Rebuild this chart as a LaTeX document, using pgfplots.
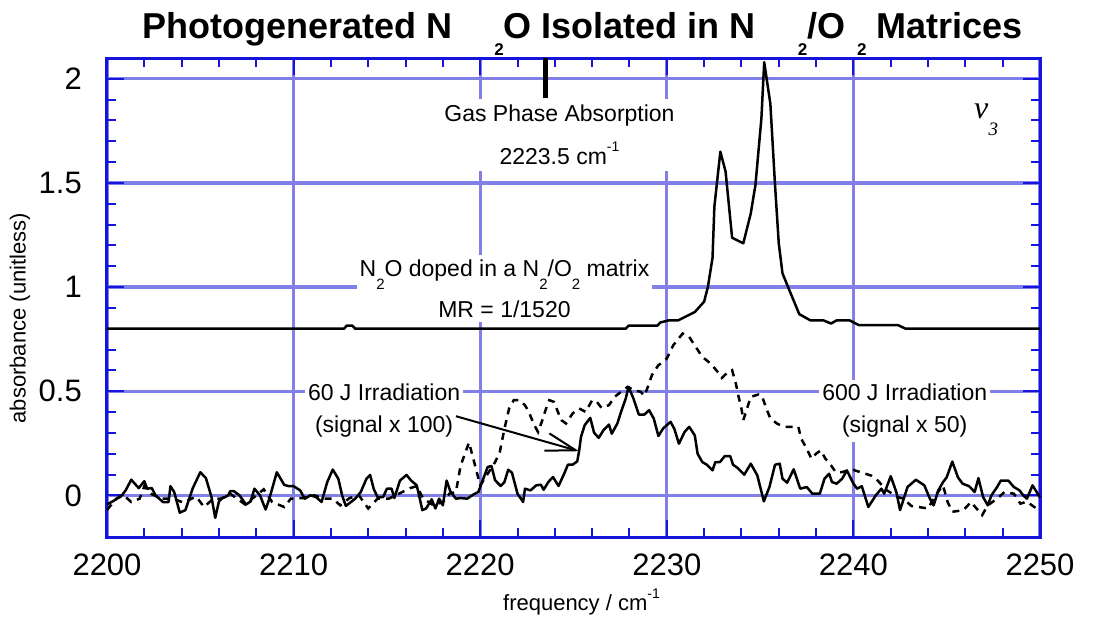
\documentclass[border=0pt]{standalone}
\usepackage{fontspec}
\setmainfont{Liberation Sans}
\newfontfamily\seriffont{Liberation Serif}
\usepackage{pgfplots}
\pgfplotsset{compat=1.18}
\usetikzlibrary{arrows.meta}
\definecolor{gridblue}{RGB}{128,128,232}
\definecolor{frameblue}{RGB}{20,20,220}
\newcommand{\fs}[1]{\fontsize{#1}{#1}\selectfont}
\newcommand{\lsub}[1]{\raisebox{-13pt}{\fs{15}#1}}
\newcommand{\tsub}[1]{\raisebox{-17pt}{\fs{17}\bfseries #1}}
\begin{document}
\begin{tikzpicture}
\begin{axis}[
  at={(0,0)}, anchor=south west,
  scale only axis, width=933pt, height=479pt,
  xmin=2200, xmax=2250, ymin=-0.2, ymax=2.1,
  clip=false,
  xtick={2200,2210,2220,2230,2240,2250},
  ytick={0,0.5,1,1.5,2},
  minor x tick num=4, minor y tick num=4,
  tick align=inside,
  major tick length=17pt, minor tick length=9pt,
  tick style={frameblue, line width=2pt},
  axis line style={frameblue, line width=3pt},
  grid=major,
  major grid style={gridblue, line width=3.2pt},
  tick label style={font=\fs{31}, inner sep=0pt},
  /pgf/number format/assume math mode=true,
  /pgf/number format/1000 sep={},
  xticklabel style={yshift=-17pt},
  yticklabel style={xshift=-25pt},
]
% N2O doped in N2/O2 matrix
\addplot[black, line width=2.5pt, line join=round] coordinates {
(2200,0.80) (2212.7,0.80) (2212.85,0.815) (2213.15,0.815) (2213.3,0.80)
(2227.8,0.80) (2227.95,0.815) (2229.5,0.815) (2229.65,0.83) (2230.1,0.84)
(2230.6,0.84) (2231.5,0.88) (2232.0,0.93) (2232.2,1.0) (2232.45,1.14)
(2232.55,1.387) (2232.87,1.65) (2233.15,1.555) (2233.5,1.237) (2234.1,1.21)
(2234.5,1.354) (2234.75,1.49) (2235.07,1.81) (2235.22,2.08) (2235.55,1.88)
(2235.8,1.49) (2236.0,1.21) (2236.2,1.066) (2236.6,0.978) (2237.1,0.87)
(2237.7,0.84) (2238.4,0.84) (2238.8,0.825) (2239.1,0.84) (2239.8,0.84)
(2240.3,0.817) (2242.4,0.817) (2242.8,0.80) (2250,0.80)
};
% 60 J irradiation (signal x 100)
\addplot[black, line width=2.5pt, line join=round] coordinates {
(2200,-0.044) (2200.4,-0.024) (2200.8,0) (2201.0,0.024) (2201.3,0.075)
(2201.7,0.035) (2202.0,0.068) (2202.15,0.032) (2202.4,0.035) (2202.6,0)
(2203.0,-0.032) (2203.3,-0.032) (2203.4,0.044) (2203.6,0.016) (2203.9,-0.083)
(2204.2,-0.071) (2204.6,0.035) (2205.0,0.111) (2205.3,0.083) (2205.6,-0.008)
(2205.8,-0.108) (2206.0,-0.029) (2206.15,-0.016) (2206.5,0) (2206.6,0.02)
(2206.8,0.02) (2207.1,0) (2207.45,-0.044) (2207.7,-0.029) (2207.9,0.032)
(2208.2,0) (2208.5,-0.068) (2208.7,-0.016) (2209.1,0.111) (2209.5,0.05)
(2209.75,0.044) (2210.0,0.044) (2210.35,0.024) (2210.6,-0.016) (2210.9,0)
(2211.2,-0.008) (2211.5,-0.032) (2211.8,0.063) (2212.1,0.124) (2212.4,0.079)
(2212.6,0) (2212.8,-0.051) (2213.0,-0.037) (2213.3,-0.016) (2213.6,0.016)
(2213.9,0.079) (2214.1,0.098) (2214.3,0.029) (2214.5,-0.008) (2214.8,-0.008)
(2215.0,0.032) (2215.25,0.032) (2215.4,-0.013) (2215.7,0.071) (2216.05,0.098)
(2216.3,0.071) (2216.6,0.048) (2216.9,-0.071) (2217.1,-0.063) (2217.4,-0.019)
(2217.6,-0.063) (2217.8,-0.016) (2218.0,-0.048) (2218.2,0.071) (2218.4,0.019)
(2218.7,-0.016) (2218.95,-0.013) (2219.3,-0.016) (2219.65,0.005) (2219.9,0.016)
(2220.2,0.088) (2220.4,0.136) (2220.6,0.141) (2220.8,0.072) (2221.1,0.045)
(2221.3,0.064) (2221.5,0.123) (2221.7,0.109) (2222.0,0.008) (2222.3,-0.032)
(2222.4,0.032) (2222.7,0.024) (2223.0,0.048) (2223.25,0.051) (2223.4,0.027)
(2223.65,0.064) (2223.9,0.088) (2224.2,0.045) (2224.5,0.104) (2224.7,0.147)
(2224.95,0.147) (2225.2,0.163) (2225.3,0.212) (2225.4,0.28) (2225.6,0.337)
(2225.9,0.372) (2226.1,0.301) (2226.35,0.276) (2226.6,0.312) (2226.9,0.34)
(2227.05,0.296) (2227.35,0.345) (2227.55,0.401) (2227.8,0.465) (2227.95,0.521)
(2228.2,0.468) (2228.5,0.388) (2228.8,0.388) (2229.05,0.409) (2229.3,0.369)
(2229.55,0.285) (2229.8,0.321) (2230.2,0.353) (2230.4,0.32) (2230.65,0.248)
(2230.95,0.304) (2231.2,0.329) (2231.5,0.288) (2231.65,0.2) (2231.9,0.16)
(2232.15,0.147) (2232.45,0.12) (2232.6,0.16) (2232.85,0.16) (2233.1,0.188)
(2233.4,0.188) (2233.55,0.147) (2233.8,0.131) (2234.15,0.099) (2234.5,0.152)
(2234.85,0.096) (2235.2,-0.029) (2235.5,0.04) (2235.8,0.147) (2236.05,0.152)
(2236.2,0.08) (2236.45,0.061) (2236.8,0.125) (2237.15,0.032) (2237.5,0.04)
(2237.8,0.008) (2238.2,0.008) (2238.45,0.08) (2238.7,0.104) (2238.85,0.064)
(2239.1,0.056) (2239.4,0.08) (2239.65,0.12) (2240.0,0.056) (2240.2,0.032)
(2240.45,0.044) (2240.8,-0.056) (2241.2,0) (2241.5,0.032) (2241.65,0.008)
(2242.0,0.092) (2242.3,0.016) (2242.5,-0.071) (2242.9,0.04) (2243.35,0.075)
(2243.8,0.048) (2244.1,-0.016) (2244.3,-0.048) (2244.55,0.024) (2244.8,0.063)
(2245.0,0.087) (2245.3,0.162) (2245.6,0.087) (2245.85,0.056) (2246.2,0.044)
(2246.5,0.016) (2246.7,0.083) (2246.95,-0.008) (2247.2,-0.048) (2247.4,0)
(2247.7,0.04) (2247.9,0.071) (2248.3,0.071) (2248.6,0.04) (2248.9,0.024)
(2249.1,0) (2249.3,-0.016) (2249.6,0.048) (2250,-0.01)
};
% 600 J irradiation (signal x 50)
\addplot[black, line width=2.5pt, dash pattern=on 7pt off 6pt] coordinates {
(2200,-0.07) (2200.5,-0.016) (2200.9,0) (2201.3,-0.032) (2201.75,-0.016)
(2202.0,0.044) (2202.35,0.008) (2202.9,-0.016) (2203.55,-0.016) (2204.1,-0.035)
(2204.6,-0.013) (2204.8,-0.008) (2205.2,-0.056) (2205.7,-0.016) (2206.1,-0.016)
(2206.6,0.008) (2207.1,-0.024) (2207.4,-0.044) (2208.0,0) (2208.4,0.029)
(2208.85,-0.032) (2209.5,-0.056) (2209.85,-0.016) (2210.5,-0.013) (2211.1,0)
(2211.65,-0.016) (2212.1,-0.016) (2212.5,-0.048) (2213.0,-0.013) (2213.5,0)
(2214.0,-0.063) (2214.5,-0.016) (2215.1,-0.016) (2215.65,0.008) (2216.25,0.035)
(2216.6,0.044) (2216.95,-0.016) (2217.5,-0.048) (2218.0,-0.032) (2218.35,0.008)
(2218.7,0.016) (2218.95,0.143) (2219.4,0.254) (2219.7,0.152) (2220.0,0.048)
(2220.35,0.096) (2220.8,0.16) (2221.05,0.208) (2221.3,0.32) (2221.55,0.417)
(2221.8,0.457) (2222.1,0.457) (2222.4,0.433) (2222.6,0.401) (2222.9,0.337)
(2223.1,0.304) (2223.3,0.353) (2223.5,0.409) (2223.7,0.457) (2223.95,0.449)
(2224.2,0.393) (2224.35,0.361) (2224.6,0.345) (2224.95,0.393) (2225.3,0.417)
(2225.65,0.401) (2226.0,0.457) (2226.25,0.449) (2226.5,0.42) (2226.9,0.433)
(2227.2,0.473) (2227.55,0.497) (2227.9,0.521) (2228.25,0.505) (2228.6,0.497)
(2228.8,0.478) (2228.95,0.513) (2229.2,0.577) (2229.55,0.625) (2229.8,0.641)
(2230.0,0.657) (2230.35,0.721) (2230.85,0.777) (2231.2,0.761) (2231.55,0.713)
(2231.9,0.665) (2232.35,0.633) (2232.8,0.585) (2232.95,0.564) (2233.2,0.585)
(2233.5,0.601) (2233.7,0.537) (2233.85,0.473) (2234.0,0.417) (2234.1,0.361)
(2234.3,0.417) (2234.5,0.473) (2234.9,0.484) (2235.1,0.478) (2235.3,0.425)
(2235.55,0.369) (2235.9,0.345) (2236.25,0.329) (2237.05,0.329) (2237.2,0.272)
(2237.5,0.224) (2237.75,0.176) (2238.0,0.2) (2238.25,0.216) (2238.5,0.176)
(2238.8,0.144) (2239.05,0.112) (2239.4,0.112) (2239.75,0.12) (2240.0,0.122)
(2240.95,0.095) (2241.3,0.071) (2241.8,0.024) (2242.35,-0.008) (2242.7,-0.016)
(2243.1,-0.051) (2244.0,-0.063) (2244.4,0) (2244.8,0.048) (2245.05,-0.032)
(2245.3,-0.079) (2245.9,-0.071) (2246.3,-0.032) (2246.9,-0.095) (2247.2,-0.048)
(2247.7,-0.016) (2248.1,0.016) (2248.6,0.008) (2248.95,-0.04) (2249.3,-0.03)
(2249.6,-0.05) (2250,-0.075)
};
% gas phase marker
\draw[black, line width=5pt] (axis cs:2223.5,2.1) -- (axis cs:2223.5,1.91);
% annotations
\node[fill=white, inner xsep=4pt, inner ysep=6pt, align=center, font={\fontsize{23}{43}\selectfont}]
  at (axis cs:2224.25,1.73) {Gas Phase Absorption\\2223.5 cm\raisebox{13pt}{\fs{14}-1}};
\node[fill=white, inner xsep=3pt, inner ysep=5pt, align=center, font={\fontsize{23}{41}\selectfont}]
  at (axis cs:2221.3,0.993) {N\lsub{2}O doped in a N\lsub{2}/O\lsub{2} matrix\\MR = 1/1520};
\node[fill=white, inner xsep=3pt, inner ysep=4pt, align=center, font={\fontsize{23}{32}\selectfont}]
  at (axis cs:2214.85,0.405) {60 J Irradiation\\(signal x 100)};
\node[fill=white, inner xsep=3pt, inner ysep=4pt, align=center, font={\fontsize{23}{32}\selectfont}]
  at (axis cs:2242.75,0.405) {600 J Irradiation\\(signal x 50)};
\draw[black, line width=2pt, -{Straight Barb[length=30pt,width=18pt]}]
  (axis cs:2218.7,0.38) -- (axis cs:2225.3,0.212);
\node[font={\seriffont\itshape\fs{32}}] at (axis cs:2246.85,1.843) {ν};
\node[font={\seriffont\itshape\fs{19}}] at (axis cs:2247.5,1.76) {3};
% title and axis labels
\node[anchor=base, font={\bfseries\fs{36}}] at (rel axis cs:0.5,1) [xshift=9pt, yshift=20pt]
  {Photogenerated N\hspace{42pt}\tsub{2}O Isolated in N\hspace{42pt}\tsub{2}/O\hspace{12pt}\tsub{2} Matrices};
\node[rotate=90, font=\fs{22}] at (rel axis cs:-0.0933,0.457) {absorbance (unitless)};
\node[anchor=base, font=\fs{22}] at (rel axis cs:0.5,0) [xshift=8pt, yshift=-73pt]
  {frequency / cm\raisebox{12pt}{\fs{14}-1}};
\end{axis}
\pgfresetboundingbox
\path[use as bounding box] (-107pt,-82pt) rectangle (997pt,537pt);
\end{tikzpicture}
\end{document}
